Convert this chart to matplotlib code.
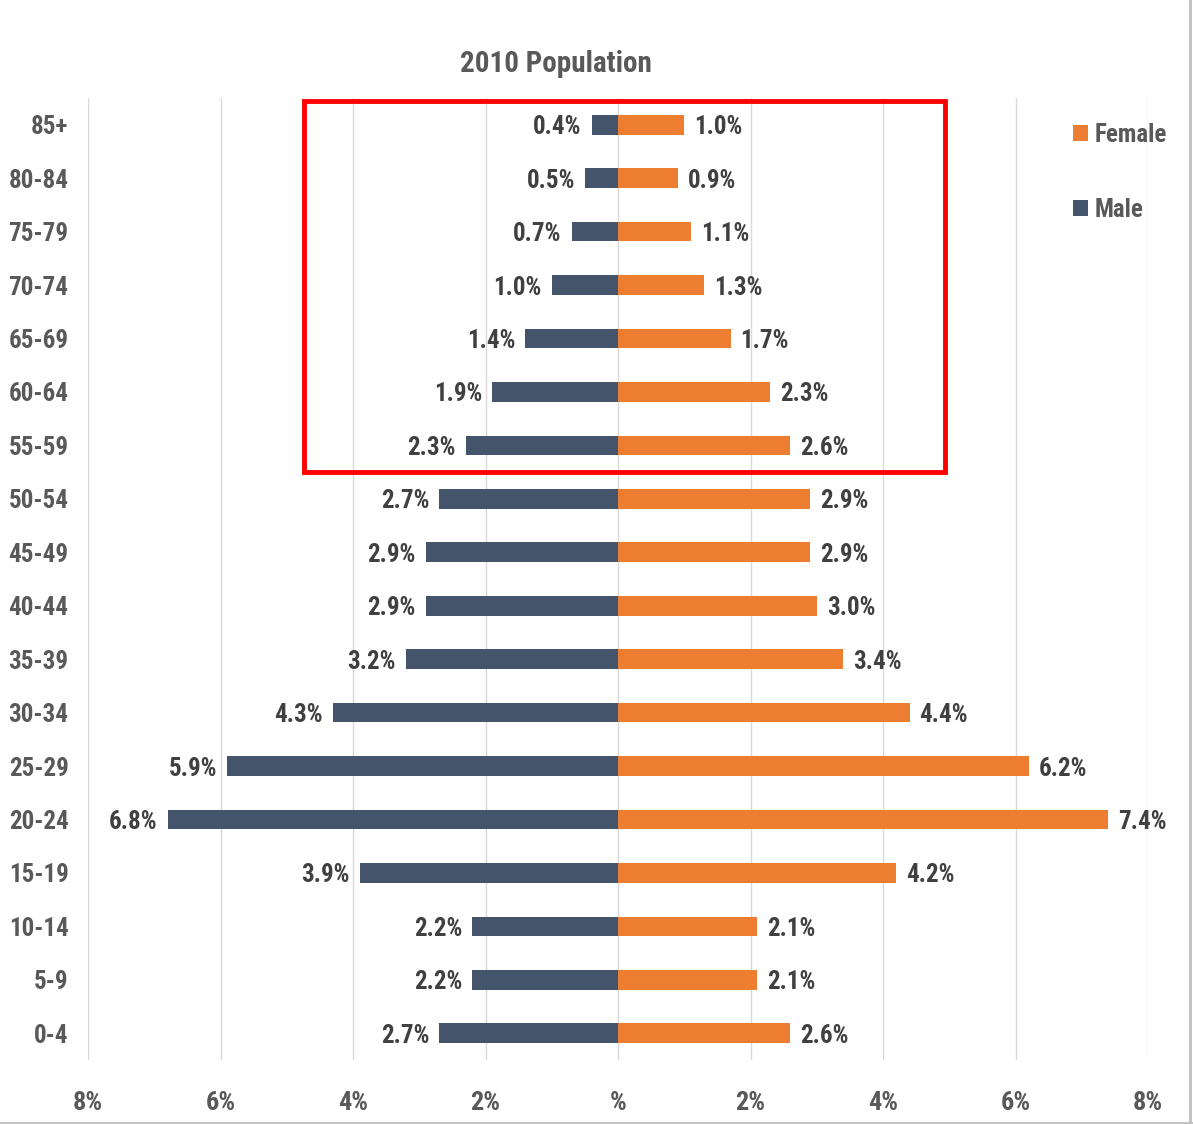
import matplotlib
matplotlib.use("Agg")
import matplotlib.pyplot as plt
from matplotlib.patches import Rectangle
from matplotlib import font_manager as fm

categories = ["0-4", "5-9", "10-14", "15-19", "20-24", "25-29", "30-34", "35-39",
              "40-44", "45-49", "50-54", "55-59", "60-64", "65-69", "70-74",
              "75-79", "80-84", "85+"]
male = [2.7, 2.2, 2.2, 3.9, 6.8, 5.9, 4.3, 3.2, 2.9, 2.9, 2.7, 2.3, 1.9, 1.4, 1.0, 0.7, 0.5, 0.4]
female = [2.6, 2.1, 2.1, 4.2, 7.4, 6.2, 4.4, 3.4, 3.0, 2.9, 2.9, 2.6, 2.3, 1.7, 1.3, 1.1, 0.9, 1.0]
xticks = [-8, -6, -4, -2, 0, 2, 4, 6, 8]
xticklabels = ["8%", "6%", "4%", "2%", "%", "2%", "4%", "6%", "8%"]
highlight = ["55-59", "85+"]

names = {f.name for f in fm.fontManager.ttflist}
candidates = ["Roboto Condensed", "Open Sans Condensed", "PT Sans Narrow",
              "Fira Sans Condensed", "Archivo Narrow", "Liberation Sans Narrow",
              "Noto Sans Display", "DejaVu Sans"]
fam = next(c for c in candidates if c in names)
plt.rcParams["font.family"] = [fam, "DejaVu Sans"]

MALE_C = "#44546A"
FEMALE_C = "#ED7D31"
TXT = "#595959"
LBL = "#404040"
FS = 18

fig = plt.figure(figsize=(11.93, 11.24), dpi=100)
ax = fig.add_axes([88/1193, 1-1060/1124, (1148-88)/1193, (1060-98)/1124])

y = list(range(len(categories)))
h = 0.37
ax.barh(y, [-m for m in male], height=h, color=MALE_C, label="Male", zorder=3)
ax.barh(y, female, height=h, color=FEMALE_C, label="Female", zorder=3)

for yi, m, f in zip(y, male, female):
    ax.text(-m - 0.15, yi, f"{m:.1f}%", ha="right", va="center_baseline", fontsize=FS,
            color=LBL, fontweight="bold")
    ax.text(f + 0.15, yi, f"{f:.1f}%", ha="left", va="center_baseline", fontsize=FS,
            color=LBL, fontweight="bold")

ax.set_xlim(-8, 8)
ax.set_ylim(-0.5, len(categories) - 0.5)
ax.set_xticks(xticks)
ax.set_xticklabels(xticklabels, fontsize=19, color=TXT, fontweight="bold")
ax.set_yticks(y)
ax.set_yticklabels(categories, fontsize=FS, color=TXT, fontweight="bold")
ax.tick_params(axis="both", length=0)
ax.tick_params(axis="x", pad=22)
ax.tick_params(axis="y", pad=14)
for s in ax.spines.values():
    s.set_visible(False)
ax.grid(axis="x", color="#D9D9D9", linewidth=1, zorder=0)

# red highlight box around 55-59 .. 85+
i0 = categories.index(highlight[0])
i1 = categories.index(highlight[1])
ax.add_patch(Rectangle((-4.74, i0 - 0.5), 4.74 + 4.94, (i1 - i0) + 0.95,
                       fill=False, edgecolor="#FF0000", linewidth=3.5, zorder=5,
                       clip_on=False))

fig.text(556/1193, 1 - 64/1124, "2010 Population", ha="center",
         va="center", fontsize=21, color=TXT, fontweight="bold")

handles, labels = ax.get_legend_handles_labels()
leg = fig.legend(handles[::-1], labels[::-1], loc="upper left",
                 bbox_to_anchor=(1050/1193, 1 - 100/1124), frameon=False,
                 handlelength=0.6, handleheight=0.6,
                 labelspacing=2.05, handletextpad=0.3,
                 prop={"family": [fam, "DejaVu Sans"], "weight": "bold", "size": FS})
for t in leg.get_texts():
    t.set_color(TXT)

# thin frame lines at bottom/right edge like the screenshot
fig.add_artist(plt.Line2D([0, 1], [1.5/1124, 1.5/1124], color="#BFBFBF", lw=2,
                          transform=fig.transFigure))
fig.add_artist(plt.Line2D([1190/1193, 1190/1193], [0, 1], color="#BFBFBF", lw=2,
                          transform=fig.transFigure))

fig.savefig("out.png", dpi=100, facecolor="white")
